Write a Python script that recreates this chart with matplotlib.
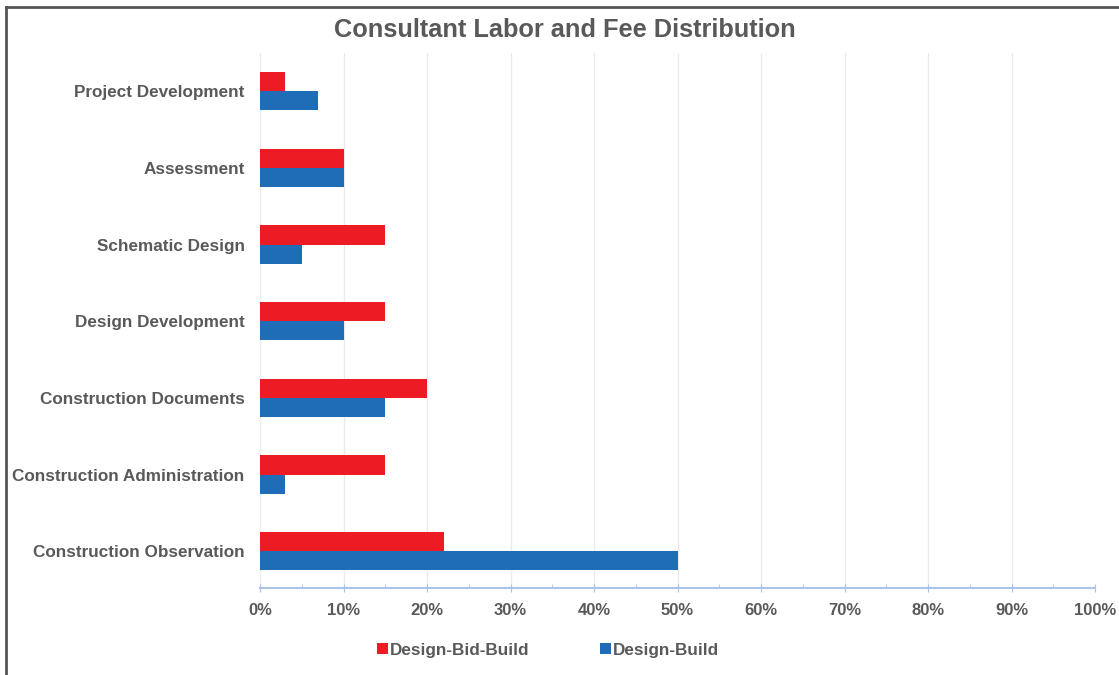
import matplotlib.pyplot as plt
import matplotlib.lines as mlines
import numpy as np

categories = ["Project Development", "Assessment", "Schematic Design",
              "Design Development", "Construction Documents",
              "Construction Administration", "Construction Observation"]
dbb = [3, 10, 15, 15, 20, 15, 22]   # Design-Bid-Build
db = [7, 10, 5, 10, 15, 3, 50]      # Design-Build
xticks = np.arange(0, 101, 10)

red = "#ED1C24"
blue = "#1F6DB7"
txt = "#595959"

plt.rcParams['font.family'] = ['Liberation Sans', 'DejaVu Sans']
plt.rcParams['font.weight'] = 'bold'

W, H = 1119, 675
fig = plt.figure(figsize=(W / 100, H / 100), dpi=100)
ax = fig.add_axes([260 / W, (H - 588) / H, 835 / W, 535 / H])

y = np.arange(len(categories))
h = 0.25
ax.barh(y - h / 2, dbb, height=h, color=red, label="Design-Bid-Build", zorder=3)
ax.barh(y + h / 2, db, height=h, color=blue, label="Design-Build", zorder=3)

ax.set_ylim(len(categories) - 0.52, -0.5)
ax.set_xlim(0, 100)
ax.set_yticks(y)
ax.set_yticklabels(categories, fontsize=12.3, color=txt, fontweight='bold')
ax.set_xticks(xticks)
ax.set_xticklabels([f"{t}%" for t in xticks], fontsize=12, color=txt, fontweight='bold')
ax.set_xticks(np.arange(5, 100, 10), minor=True)
ax.tick_params(axis='y', length=0, pad=11)
ax.tick_params(axis='x', which='major', direction='inout', length=6, color="#A9C4E8", pad=8)
ax.tick_params(axis='x', which='minor', direction='in', length=3, color="#A9C4E8")
ax.grid(axis='x', color="#EBEBEB", linewidth=1, zorder=0)
for s in ['top', 'right', 'left']:
    ax.spines[s].set_visible(False)
ax.spines['bottom'].set_color("#A9C4E8")
ax.spines['bottom'].set_linewidth(1.5)

fig.text(565 / W, 1 - 30 / H, "Consultant Labor and Fee Distribution",
         ha='center', va='center', fontsize=18.3, color=txt, fontweight='bold')

fig.legend(loc='center', bbox_to_anchor=(548 / W, 1 - 650 / H), ncol=2,
           frameon=False, handlelength=0.65, handleheight=0.65, handletextpad=0.12,
           columnspacing=4.1, prop={'size': 12.3, 'weight': 'bold'},
           labelcolor=txt)

# frame lines (top and left)
fig.add_artist(mlines.Line2D([5.5 / W, 1], [1 - 6.5 / H, 1 - 6.5 / H],
                             color="#555555", linewidth=2, transform=fig.transFigure))
fig.add_artist(mlines.Line2D([5.5 / W, 5.5 / W], [0, 1 - 6.5 / H],
                             color="#555555", linewidth=2, transform=fig.transFigure))

fig.savefig("out.png", dpi=100)
